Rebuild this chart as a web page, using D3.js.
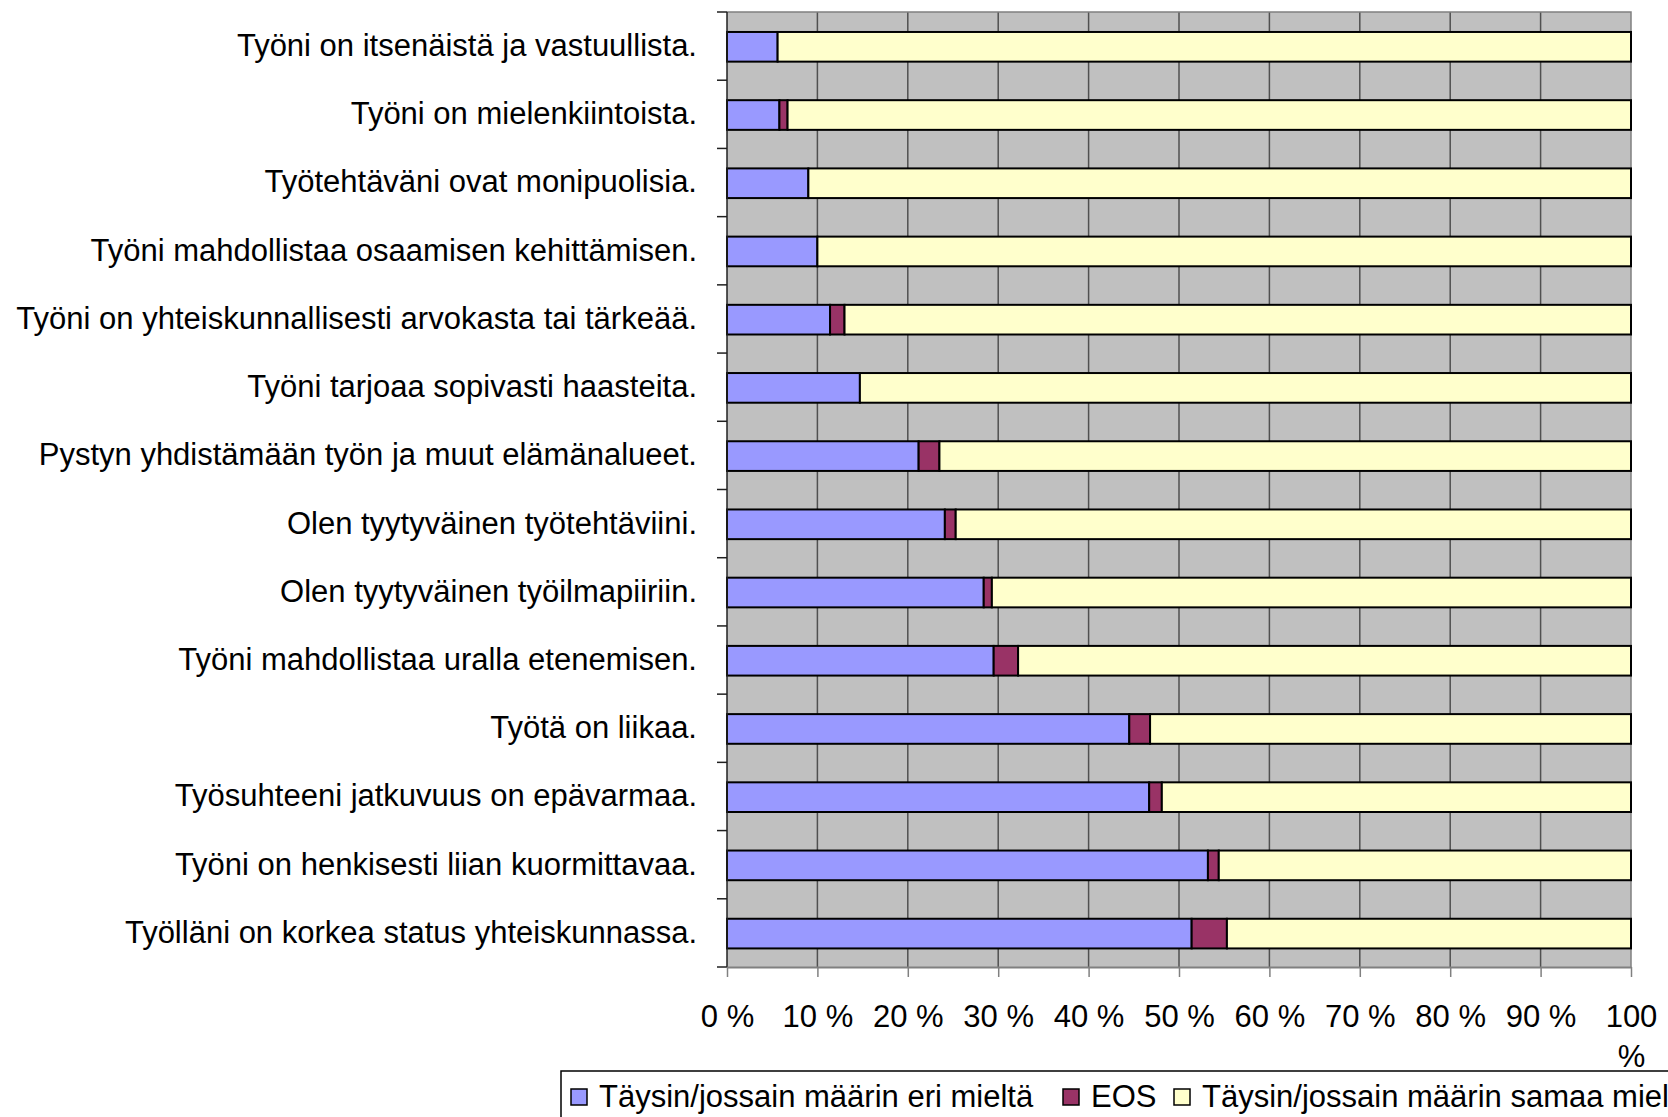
<!DOCTYPE html>
<html>
<head>
<meta charset="utf-8">
<script src="https://cdn.jsdelivr.net/npm/d3@7"></script>
<style>
  html, body { margin: 0; padding: 0; background: #fff; }
  svg { display: block; font-family: "Liberation Sans", Arial, sans-serif; }
</style>
</head>
<body>
<div id="chart"></div>
<script>
(function () {
  'use strict';

  /* ── Data ── */
  var categories = [
    'Työni on itsenäistä ja vastuullista.',
    'Työni on mielenkiintoista.',
    'Työtehtäväni ovat monipuolisia.',
    'Työni mahdollistaa osaamisen kehittämisen.',
    'Työni on yhteiskunnallisesti arvokasta tai tärkeää.',
    'Työni tarjoaa sopivasti haasteita.',
    'Pystyn yhdistämään työn ja muut elämänalueet.',
    'Olen tyytyväinen työtehtäviini.',
    'Olen tyytyväinen työilmapiiriin.',
    'Työni mahdollistaa uralla etenemisen.',
    'Työtä on liikaa.',
    'Työsuhteeni jatkuvuus on epävarmaa.',
    'Työni on henkisesti liian kuormittavaa.',
    'Työlläni on korkea status yhteiskunnassa.'
  ];
  var disagree = [5.6, 5.8, 9.0, 10.0, 11.4, 14.7, 21.2, 24.1, 28.4, 29.5, 44.5, 46.7, 53.2, 51.4];
  var eos      = [0.0, 0.9, 0.0, 0.0, 1.6, 0.0, 2.3, 1.2, 0.9, 2.7, 2.3, 1.4, 1.2, 3.9];
  var agree    = [94.4, 93.3, 91.0, 90.0, 87.0, 85.3, 76.5, 74.7, 70.7, 67.8, 53.2, 51.9, 45.6, 44.7];

  var seriesNames = ['Täysin/jossain määrin eri mieltä', 'EOS', 'Täysin/jossain määrin samaa mieltä'];
  var seriesKeys = ['disagree', 'eos', 'agree'];
  var tickValues = [0, 10, 20, 30, 40, 50, 60, 70, 80, 90, 100];

  var colors = { disagree: '#9999ff', eos: '#993366', agree: '#ffffcc' };

  /* ── Layout ── */
  var W = 1668, H = 1117;
  var left = 727, right = 1631, top = 12, bottom = 967;
  var fontSize = 31;

  var svg = d3.select('#chart').append('svg')
    .attr('width', W).attr('height', H)
    .attr('viewBox', '0 0 ' + W + ' ' + H);

  var x = d3.scaleLinear().domain([0, 100]).range([left, right]);
  var y = d3.scaleBand().domain(categories).range([top, bottom])
    .paddingInner(0.565).paddingOuter(0.2825);
  var step = y.step();

  var rows = categories.map(function (c, i) {
    return { cat: c, disagree: disagree[i], eos: eos[i], agree: agree[i] };
  });
  var stacked = d3.stack().keys(seriesKeys)(rows);

  /* Plot background */
  svg.append('rect')
    .attr('x', left).attr('y', top)
    .attr('width', right - left).attr('height', bottom - top)
    .attr('fill', '#c0c0c0');

  /* Vertical gridlines */
  svg.append('g')
    .selectAll('line')
    .data(tickValues.slice(1, -1))
    .join('line')
    .attr('x1', function (d) { return x(d); })
    .attr('x2', function (d) { return x(d); })
    .attr('y1', top).attr('y2', bottom)
    .attr('stroke', '#505050')
    .attr('stroke-width', 1.5);

  /* Plot border (right / top) */
  svg.append('path')
    .attr('d', 'M' + left + ',' + top + 'H' + right + 'V' + bottom)
    .attr('fill', 'none')
    .attr('stroke', '#808080')
    .attr('stroke-width', 1.5);

  /* Bars */
  svg.append('g')
    .selectAll('g')
    .data(stacked)
    .join('g')
    .attr('fill', function (s) { return colors[s.key]; })
    .selectAll('rect')
    .data(function (s) { return s.filter(function (d) { return d[1] - d[0] > 0; }); })
    .join('rect')
    .attr('x', function (d) { return x(d[0]); })
    .attr('width', function (d) { return x(d[1]) - x(d[0]); })
    .attr('y', function (d) { return y(d.data.cat) + 0.7; })
    .attr('height', y.bandwidth())
    .attr('stroke', '#000')
    .attr('stroke-width', 2);

  /* Y axis line + ticks between categories */
  var yAxis = svg.append('g');
  yAxis.append('line')
    .attr('x1', left).attr('x2', left)
    .attr('y1', top).attr('y2', bottom)
    .attr('stroke', '#202020').attr('stroke-width', 1.5);
  yAxis.selectAll('line.tick')
    .data(d3.range(categories.length + 1))
    .join('line')
    .attr('class', 'tick')
    .attr('x1', left - 10).attr('x2', left)
    .attr('y1', function (i) { return top + i * step; })
    .attr('y2', function (i) { return top + i * step; })
    .attr('stroke', '#202020').attr('stroke-width', 1.5);

  /* Category labels */
  yAxis.selectAll('text')
    .data(categories)
    .join('text')
    .attr('x', 697)
    .attr('y', function (c) { return y(c) + y.bandwidth() / 2; })
    .attr('dy', '0.32em')
    .attr('text-anchor', 'end')
    .attr('font-size', fontSize)
    .attr('fill', '#000')
    .text(function (c) { return c; });

  /* X axis */
  var xAxis = svg.append('g')
    .attr('transform', 'translate(0,' + bottom + ')')
    .call(d3.axisBottom(x)
      .tickValues(tickValues)
      .tickSize(10)
      .tickSizeOuter(0)
      .tickPadding(49)
      .tickFormat(function (d) { return d + ' %'; }));
  xAxis.select('.domain').attr('stroke', '#808080').attr('stroke-width', 2);
  xAxis.selectAll('.tick line').attr('stroke', '#808080').attr('stroke-width', 1.5);
  xAxis.selectAll('.tick text')
    .attr('font-size', fontSize)
    .attr('font-family', '"Liberation Sans", Arial, sans-serif')
    .attr('fill', '#000')
    .attr('dy', null)
    .attr('y', 1027 - bottom)
    .each(function (d) {
      if (d === 100) {
        var t = d3.select(this).text(null);
        t.append('tspan').attr('x', 0).text('100');
        t.append('tspan').attr('x', 0).attr('dy', 40).text('%');
      }
    });

  /* Legend */
  var lg = svg.append('g');
  lg.append('rect')
    .attr('x', 561).attr('y', 1071)
    .attr('width', 1400).attr('height', 200)
    .attr('fill', '#fff')
    .attr('stroke', '#000')
    .attr('stroke-width', 1.5);

  var legendX = [571, 1063, 1174];
  seriesKeys.forEach(function (k, i) {
    lg.append('rect')
      .attr('x', legendX[i]).attr('y', 1089)
      .attr('width', 16).attr('height', 16)
      .attr('fill', colors[k])
      .attr('stroke', '#000')
      .attr('stroke-width', 1.5);
    lg.append('text')
      .attr('x', legendX[i] + 28)
      .attr('y', 1107)
      .attr('font-size', fontSize)
      .attr('fill', '#000')
      .text(seriesNames[i]);
  });
})();
</script>
</body>
</html>
